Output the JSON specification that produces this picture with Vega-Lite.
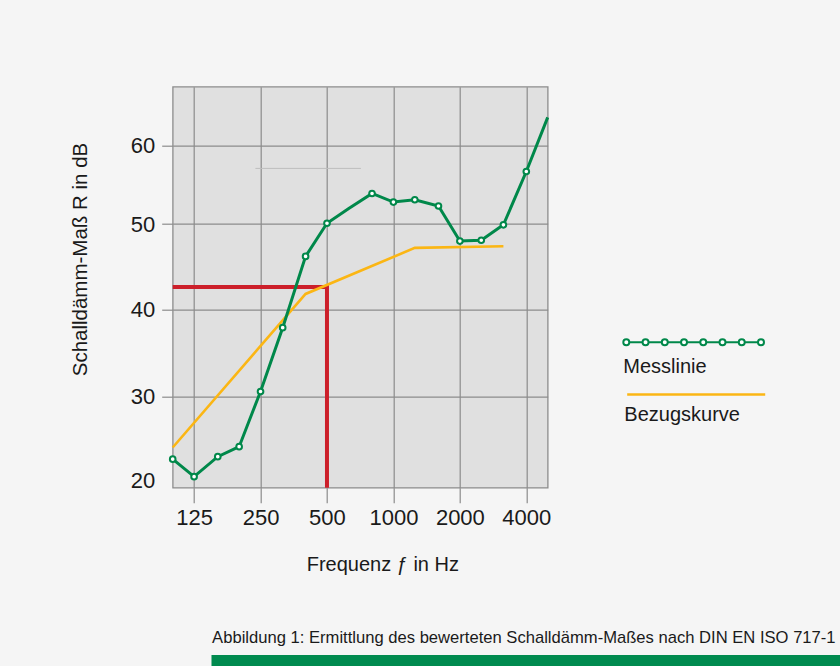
{
  "$schema": "https://vega.github.io/schema/vega-lite/v6.json",
  "autosize": {"type": "none"},
  "padding": {"left": 172.7, "top": 86.7, "right": 667.3, "bottom": 579.3},
  "background": "#f5f5f5",
  "config": {"font": "Liberation Sans", "view": {"fill": "#e0e0e0", "stroke": "#8c8c8c", "strokeWidth": 1.3}},
  "spacing": 167.3,
  "bounds": "flush",
  "vconcat": [
    {
      "width": 375,
      "height": 401,
      "encoding": {
        "x": {
          "field": "f",
          "type": "quantitative",
          "scale": {"type": "log", "domain": [100, 5000], "nice": false},
          "axis": {
            "values": [125, 250, 500, 1000, 2000, 4000],
            "format": "d",
            "grid": true,
            "gridColor": "#8c8c8c",
            "gridWidth": 1.2,
            "gridOpacity": 1,
            "domain": false,
            "tickColor": "#8c8c8c",
            "tickWidth": 1.2,
            "tickSize": 15,
            "labelFontSize": 22,
            "labelColor": "#1a1a1a",
            "labelPadding": 5,
            "labelFlush": false,
            "labelOverlap": false,
            "title": "Frequenz ƒ in Hz",
            "titleFontSize": 20,
            "titleFontWeight": "normal",
            "titleColor": "#1a1a1a",
            "titleX": 209.6,
            "titleY": 76.3,
            "titleAlign": "center",
            "titleBaseline": "middle"
          }
        },
        "y": {
          "field": "R",
          "type": "quantitative",
          "scale": {
            "type": "linear",
            "domain": [19.1, 20, 30, 40, 50, 60, 67.5],
            "range": [401, 393.3, 310, 222.6, 137.3, 59, 0],
            "nice": false,
            "zero": false
          },
          "axis": {
            "values": [20, 30, 40, 50, 60],
            "grid": true,
            "gridColor": "#8c8c8c",
            "gridWidth": 1.2,
            "gridOpacity": {"condition": {"test": "datum.value === 20", "value": 0}, "value": 1},
            "domain": false,
            "tickColor": "#8c8c8c",
            "tickWidth": 1.2,
            "tickSize": 11,
            "tickOpacity": {"condition": {"test": "datum.value === 20", "value": 0}, "value": 1},
            "labelFontSize": 22,
            "labelColor": "#1a1a1a",
            "labelPadding": 7,
            "labelFlush": false,
            "labelOverlap": false,
            "title": "Schalldämm-Maß R in dB",
            "titleFontSize": 20.5,
            "titleFontWeight": "normal",
            "titleColor": "#1a1a1a",
            "titleX": -92.7,
            "titleY": 172.3,
            "titleAngle": 270,
            "titleAlign": "center",
            "titleBaseline": "middle"
          }
        }
      },
      "layer": [
        {
          "data": {"values": [{"f": 237, "f2": 712, "R": 57.1}]},
          "mark": {"type": "rule", "color": "#bdbdbd", "strokeWidth": 1},
          "encoding": {"x2": {"field": "f2"}}
        },
        {
          "data": {"values": [
            {"f": 100, "R": 42.6, "punkt": 1},
            {"f": 500, "R": 42.6, "punkt": 2},
            {"f": 500, "R": 19.1, "punkt": 3}
          ]},
          "mark": {"type": "line", "color": "#cc1f2a", "strokeWidth": 4},
          "encoding": {"order": {"field": "punkt", "type": "quantitative"}}
        },
        {
          "data": {"values": [
            {"f": 100, "R": 23.9, "serie": "Bezugskurve"},
            {"f": 400, "R": 41.8, "serie": "Bezugskurve"},
            {"f": 1250, "R": 47.2, "serie": "Bezugskurve"},
            {"f": 3150, "R": 47.4, "serie": "Bezugskurve"}
          ]},
          "mark": {"type": "line", "strokeWidth": 2.6},
          "encoding": {
            "stroke": {
              "field": "serie",
              "type": "nominal",
              "scale": {"domain": ["Bezugskurve"], "range": ["#fbb614"]},
              "legend": {
                "title": null,
                "orient": "none",
                "legendX": 450.6,
                "legendY": 317,
                "padding": 0,
                "symbolType": "M-0.76,-2.07L13.04,-2.07",
                "symbolSize": 400,
                "symbolStrokeWidth": 2.3,
                "symbolFillColor": "transparent",
                "labelFontSize": 20,
                "labelColor": "#1a1a1a",
                "labelOffset": -22,
                "labelLimit": 300
              }
            }
          }
        },
        {
          "data": {"name": "messlinie"},
          "mark": {"type": "line", "strokeWidth": 3},
          "encoding": {
            "color": {
              "field": "serie",
              "type": "nominal",
              "scale": {"domain": ["Messlinie"], "range": ["#00884a"]},
              "legend": {
                "title": null,
                "orient": "none",
                "legendX": 450.6,
                "legendY": 269,
                "padding": 0,
                "symbolType": "M-1.1,-2.44A0.3,0.3,0,1,1,-0.5,-2.44A0.3,0.3,0,1,1,-1.1,-2.44ZM-0.5,-2.44L0.824,-2.44M0.824,-2.44A0.3,0.3,0,1,1,1.424,-2.44A0.3,0.3,0,1,1,0.824,-2.44ZM1.424,-2.44L2.748,-2.44M2.748,-2.44A0.3,0.3,0,1,1,3.348,-2.44A0.3,0.3,0,1,1,2.748,-2.44ZM3.348,-2.44L4.672,-2.44M4.672,-2.44A0.3,0.3,0,1,1,5.272,-2.44A0.3,0.3,0,1,1,4.672,-2.44ZM5.272,-2.44L6.596,-2.44M6.596,-2.44A0.3,0.3,0,1,1,7.196,-2.44A0.3,0.3,0,1,1,6.596,-2.44ZM7.196,-2.44L8.52,-2.44M8.52,-2.44A0.3,0.3,0,1,1,9.12,-2.44A0.3,0.3,0,1,1,8.52,-2.44ZM9.12,-2.44L10.444,-2.44M10.444,-2.44A0.3,0.3,0,1,1,11.044,-2.44A0.3,0.3,0,1,1,10.444,-2.44ZM11.044,-2.44L12.368,-2.44M12.368,-2.44A0.3,0.3,0,1,1,12.968,-2.44A0.3,0.3,0,1,1,12.368,-2.44Z",
                "symbolSize": 400,
                "symbolStrokeWidth": 2,
                "symbolFillColor": "#ffffff",
                "labelFontSize": 20,
                "labelColor": "#1a1a1a",
                "labelOffset": -22,
                "labelLimit": 300
              }
            }
          }
        },
        {
          "data": {"name": "messlinie"},
          "transform": [{"filter": "datum.typ === 'Messwert'"}],
          "mark": {"type": "point", "shape": "circle", "filled": true, "fill": "#ffffff", "stroke": "#00884a", "strokeWidth": 2, "size": 32, "opacity": 1}
        }
      ]
    },
    {
      "spacing": 0,
      "bounds": "flush",
      "hconcat": [
        {
          "width": 38.3,
          "height": 11,
          "view": {"fill": "transparent", "stroke": null},
          "data": {"values": []},
          "mark": {"type": "rect"},
          "encoding": {}
        },
        {
          "width": 629,
          "height": 11,
          "view": {"fill": "#008a4f", "stroke": null},
          "title": {
            "text": "Abbildung 1: Ermittlung des bewerteten Schalldämm-Maßes nach DIN EN ISO 717-1",
            "anchor": "start",
            "dx": 0.4,
            "dy": 16,
            "offset": 11.7,
            "baseline": "alphabetic",
            "fontSize": 16.6,
            "fontWeight": "normal",
            "color": "#1a1a1a",
            "font": "Liberation Sans"
          },
          "data": {"values": [{}]},
          "mark": {"type": "rect", "color": "#008a4f"},
          "encoding": {}
        }
      ]
    }
  ],
  "datasets": {
    "messlinie": [
      {"f": 100, "R": 22.5, "serie": "Messlinie", "typ": "Messwert"},
      {"f": 125, "R": 20.4, "serie": "Messlinie", "typ": "Messwert"},
      {"f": 160, "R": 22.8, "serie": "Messlinie", "typ": "Messwert"},
      {"f": 200, "R": 24.0, "serie": "Messlinie", "typ": "Messwert"},
      {"f": 250, "R": 30.6, "serie": "Messlinie", "typ": "Messwert"},
      {"f": 315, "R": 37.9, "serie": "Messlinie", "typ": "Messwert"},
      {"f": 400, "R": 46.2, "serie": "Messlinie", "typ": "Messwert"},
      {"f": 500, "R": 50.1, "serie": "Messlinie", "typ": "Messwert"},
      {"f": 630, "R": 52.0, "serie": "Messlinie", "typ": "Stützpunkt"},
      {"f": 800, "R": 53.9, "serie": "Messlinie", "typ": "Messwert"},
      {"f": 1000, "R": 52.8, "serie": "Messlinie", "typ": "Messwert"},
      {"f": 1250, "R": 53.1, "serie": "Messlinie", "typ": "Messwert"},
      {"f": 1600, "R": 52.3, "serie": "Messlinie", "typ": "Messwert"},
      {"f": 2000, "R": 48.0, "serie": "Messlinie", "typ": "Messwert"},
      {"f": 2500, "R": 48.1, "serie": "Messlinie", "typ": "Messwert"},
      {"f": 3150, "R": 49.9, "serie": "Messlinie", "typ": "Messwert"},
      {"f": 4000, "R": 56.7, "serie": "Messlinie", "typ": "Messwert"},
      {"f": 5000, "R": 63.6, "serie": "Messlinie", "typ": "Stützpunkt"}
    ]
  }
}
